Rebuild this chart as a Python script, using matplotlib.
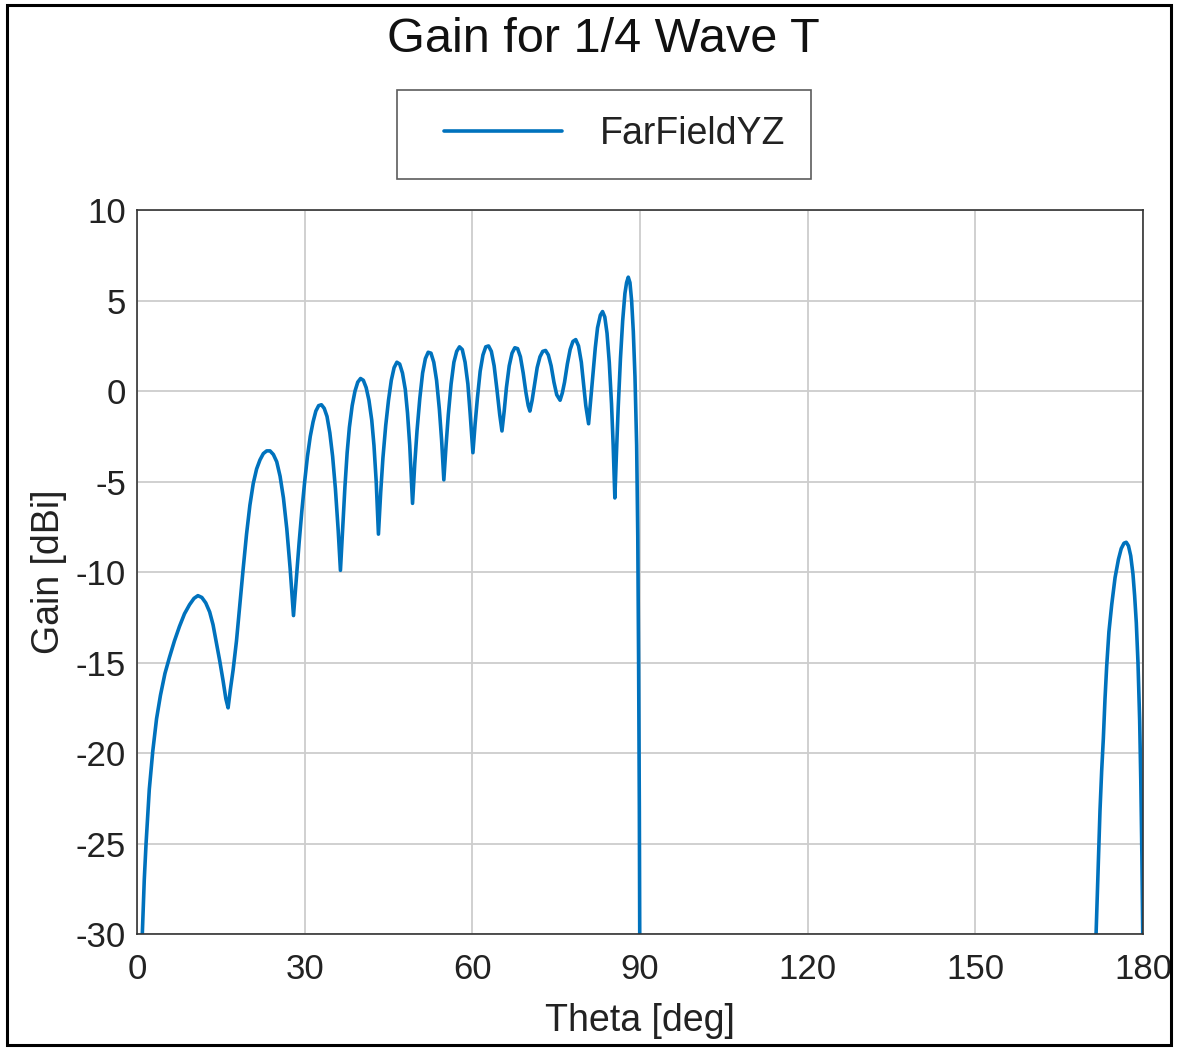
import numpy as np
import matplotlib
matplotlib.use("Agg")
import matplotlib.pyplot as plt
from matplotlib.patches import Rectangle
from matplotlib.legend_handler import HandlerLine2D

plt.rcParams["font.family"] = ["Liberation Sans", "DejaVu Sans"]
plt.rcParams["axes.unicode_minus"] = False

# far field cut, main lobe side (theta in deg, gain in dBi)
theta_front = [
    0.95, 1.3, 1.62, 2.2, 2.82, 3.5, 4.2, 5.0, 5.82, 6.7, 7.6, 8.5, 9.4, 10.2, 10.9,
    11.6, 12.3, 13.0, 13.6, 14.2, 14.8, 15.4, 15.9, 16.3,
    16.7, 17.2, 17.8, 18.4, 19.0, 19.6, 20.2, 20.8, 21.4, 22.0, 22.6, 23.2, 23.8, 24.4,
    25.0, 25.6, 26.2, 26.8, 27.4, 28.0,
    28.5, 29.0, 29.5, 30.0, 30.5, 31.0, 31.5, 32.0, 32.5, 33.0, 33.5, 34.0, 34.5, 35.0,
    35.5, 36.0, 36.4,
    36.8, 37.2, 37.6, 38.0, 38.5, 39.0, 39.5, 40.0, 40.5, 41.0, 41.5, 42.0, 42.4, 42.8, 43.2,
    43.6, 44.0, 44.5, 45.0, 45.5, 46.0, 46.5, 47.0, 47.5, 48.0, 48.4, 48.8, 49.3,
    49.7, 50.1, 50.6, 51.1, 51.6, 52.1, 52.6, 53.1, 53.6, 54.1, 54.5, 54.9,
    55.3, 55.7, 56.2, 56.7, 57.2, 57.7, 58.2, 58.7, 59.2, 59.6, 60.1,
    60.5, 60.9, 61.4, 61.9, 62.4, 62.9, 63.4, 63.9, 64.4, 64.9, 65.3,
    65.7, 66.1, 66.6, 67.1, 67.6, 68.1, 68.6, 69.1, 69.6, 70.0, 70.3,
    70.7, 71.1, 71.6, 72.1, 72.6, 73.1, 73.6, 74.1, 74.6, 75.1, 75.7,
    76.1, 76.5, 77.0, 77.5, 78.0, 78.5, 79.0, 79.5, 79.9, 80.3, 80.8,
    81.2, 81.6, 82.0, 82.4, 82.9, 83.3, 83.7, 84.1, 84.5, 84.9, 85.2, 85.5,
    85.8, 86.1, 86.5, 86.9, 87.3, 87.6, 87.9, 88.2, 88.5, 88.8, 89.1, 89.4, 89.6,
    89.75, 89.88, 89.95,
]
gain_front = [
    -30, -27, -25.0, -22, -19.9, -18.1, -16.8, -15.6, -14.7, -13.8, -13.0, -12.3, -11.8, -11.45, -11.3,
    -11.4, -11.7, -12.2, -12.9, -13.9, -14.9, -16.0, -17.0, -17.5,
    -16.5, -15.4, -13.8, -11.8, -9.8, -7.9, -6.3, -5.1, -4.3, -3.8, -3.45, -3.3, -3.3, -3.5,
    -3.9, -4.7, -5.9, -7.6, -9.8, -12.4,
    -10.4, -8.4, -6.6, -5.0, -3.6, -2.5, -1.7, -1.1, -0.8, -0.75, -0.95, -1.4, -2.3, -3.6,
    -5.4, -7.7, -9.9,
    -7.6, -5.3, -3.4, -2.0, -0.8, 0.0, 0.5, 0.7, 0.6, 0.2, -0.5, -1.6, -3.0, -5.0, -7.9,
    -5.6, -3.7, -1.9, -0.5, 0.6, 1.3, 1.6, 1.5, 1.0, 0.1, -1.2, -3.0, -6.2,
    -4.0, -2.2, -0.4, 1.0, 1.8, 2.15, 2.1, 1.6, 0.6, -1.0, -2.7, -4.9,
    -3.0, -1.3, 0.4, 1.6, 2.2, 2.45, 2.3, 1.6, 0.4, -1.2, -3.4,
    -1.8, -0.4, 1.1, 2.0, 2.45, 2.5, 2.2, 1.4, 0.1, -1.3, -2.2,
    -1.1, 0.2, 1.4, 2.1, 2.4, 2.35, 1.9, 1.0, -0.1, -0.8, -1.1,
    -0.5, 0.3, 1.3, 1.9, 2.2, 2.25, 2.0, 1.4, 0.5, -0.2, -0.5,
    -0.1, 0.5, 1.5, 2.3, 2.75, 2.85, 2.5, 1.6, 0.4, -0.8, -1.8,
    -0.4, 1.0, 2.4, 3.5, 4.2, 4.4, 4.1, 3.2, 1.6, -0.7, -3.0, -5.9,
    -3.3, -0.9, 1.8, 3.9, 5.4, 6.0, 6.3, 6.0, 5.0, 3.3, 0.8, -3.0, -8.0,
    -15, -23, -30,
]

# back lobe near 180 deg
theta_back = [171.6, 172.0, 172.3, 172.6, 172.9, 173.2, 173.5, 173.9, 174.4, 175.0,
              175.6, 176.1, 176.6, 177.0, 177.4, 177.8, 178.2, 178.5, 178.8, 179.1,
              179.4, 179.6, 179.8, 179.95]
gain_back = [-30, -26.2, -23.2, -21.0, -19.2, -17.0, -15.2, -13.3, -11.8, -10.3,
             -9.3, -8.7, -8.4, -8.35, -8.55, -9.1, -10.1, -11.3, -12.8, -15.0,
             -18.2, -21.5, -25.7, -30]

x_ticks = [0, 30, 60, 90, 120, 150, 180]
y_ticks = [10, 5, 0, -5, -10, -15, -20, -25, -30]

line_color = "#0072BD"
text_color = "#222222"


class IndentedLineHandler(HandlerLine2D):
    """Legend line that starts a bit right of the handle box."""

    def create_artists(self, legend, orig_handle, xdescent, ydescent, width, height,
                       fontsize, trans):
        artists = super().create_artists(legend, orig_handle, xdescent, ydescent,
                                         width, height, fontsize, trans)
        for a in artists:
            xd = np.asarray(a.get_xdata(), dtype=float)
            if len(xd) >= 2:
                start = xd[0] + 0.15 * (xd[-1] - xd[0])
                a.set_xdata(np.linspace(start, xd[-1], len(xd)))
        return artists


fig = plt.figure(figsize=(11.78, 10.49), dpi=100)
ax = fig.add_axes([0.1163, 0.1096, 0.854, 0.690])

theta = np.concatenate([theta_front, [np.nan], theta_back])
gain = np.concatenate([gain_front, [np.nan], gain_back])
ax.plot(theta, gain, color=line_color, lw=2.6, label="FarFieldYZ",
        solid_joinstyle="round", solid_capstyle="round")

ax.set_xlim(0, 180)
ax.set_ylim(-30, 10)
ax.set_xticks(x_ticks)
ax.set_yticks(y_ticks)
ax.tick_params(axis="both", labelsize=25, length=0, colors=text_color)
ax.tick_params(axis="x", pad=14)
ax.tick_params(axis="y", pad=8)
ax.grid(True, color="#cdcdcd", lw=1.3)
ax.set_axisbelow(True)
for sp in ax.spines.values():
    sp.set_color("#333333")
    sp.set_linewidth(1.2)

ax.set_xlabel("Theta [deg]", fontsize=27, color=text_color, labelpad=12)
ax.set_ylabel("Gain [dBi]", fontsize=27, color=text_color, labelpad=6)

fig.text(0.512, 0.962, "Gain for 1/4 Wave T", fontsize=35, ha="center", va="center",
         color="#111111")

leg = fig.legend(loc="center", bbox_to_anchor=(0.5127, 0.8718), fontsize=27,
                 handlelength=3.7, handletextpad=1.0, borderpad=0.7,
                 borderaxespad=0, fancybox=False, frameon=True,
                 handler_map={matplotlib.lines.Line2D: IndentedLineHandler()})
leg.get_frame().set_edgecolor("#333333")
leg.get_frame().set_linewidth(1.2)
for txt in leg.get_texts():
    txt.set_color(text_color)

# outer border around the whole figure
fig.add_artist(Rectangle((7 / 1178, 4 / 1049), 1164 / 1178, 1040 / 1049,
                         transform=fig.transFigure, fill=False, edgecolor="black", lw=2.2))

fig.savefig("out.png", dpi=100)
